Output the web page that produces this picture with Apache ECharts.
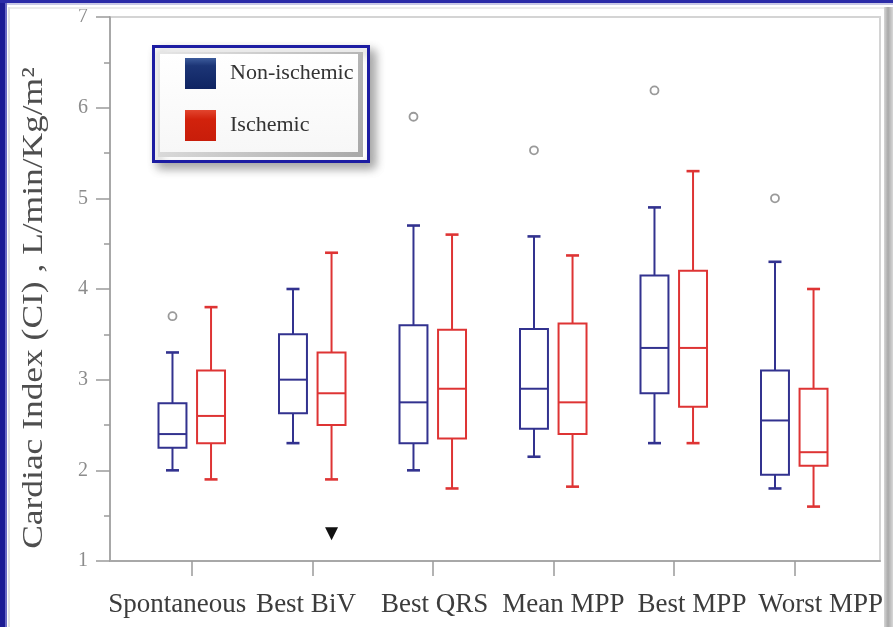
<!DOCTYPE html>
<html>
<head>
<meta charset="utf-8">
<script src="https://cdn.jsdelivr.net/npm/echarts@6/dist/echarts.min.js"></script>
<style>
html, body { margin: 0; padding: 0; background: #ffffff; }
#chart { width: 893px; height: 627px; }
</style>
</head>
<body>
<div id="chart"></div>
<script>
// Cardiac index by pacing configuration, grouped by aetiology
const categories = ['Spontaneous', 'Best BiV', 'Best QRS', 'Mean MPP', 'Best MPP', 'Worst MPP'];

// Box statistics per category: [min, Q1, median, Q3, max]
const nonIschemic = [
  [2.0, 2.25, 2.4, 2.74, 3.3],
  [2.3, 2.63, 3.0, 3.5, 4.0],
  [2.0, 2.3, 2.75, 3.6, 4.7],
  [2.15, 2.46, 2.9, 3.56, 4.58],
  [2.3, 2.85, 3.35, 4.15, 4.9],
  [1.8, 1.95, 2.55, 3.1, 4.3]
];
const ischemic = [
  [1.9, 2.3, 2.6, 3.1, 3.8],
  [1.9, 2.5, 2.85, 3.3, 4.4],
  [1.8, 2.35, 2.9, 3.55, 4.6],
  [1.82, 2.4, 2.75, 3.62, 4.37],
  [2.3, 2.7, 3.35, 4.2, 5.3],
  [1.6, 2.05, 2.2, 2.9, 4.0]
];

// Outlying observations: [category index, value]
const nonIschemicOutliers = [[0, 3.7], [2, 5.9], [3, 5.53], [4, 6.19], [5, 5.0]];
// Significance marker: [category index, value]
const ischemicMarkers = [[1, 1.3]];

const yMin = 1, yMax = 7, yStep = 1;
const yTitle = 'Cardiac Index (CI) , L/min/Kg/m\u00b2';

const BLUE = '#32328f';
const RED = '#de3434';
const SERIF = 'Liberation Serif, Times New Roman, serif';

// Offsets of each group inside a category band (fraction of band width)
const OFFSET_NON = -0.162;
const OFFSET_ISCH = 0.158;

function boxRenderer(offset, color) {
  return function (params, api) {
    const i = api.value(0);
    const band = api.size([1, 0])[0];
    const cx = api.coord([i, yMin])[0] + band * offset;
    const py = v => api.coord([i, v])[1];
    const yLo = py(api.value(1)), yQ1 = py(api.value(2)), yMed = py(api.value(3));
    const yQ3 = py(api.value(4)), yHi = py(api.value(5));
    const hw = band * 0.116;   // half box width
    const cw = band * 0.054;   // half cap width
    const st = { stroke: color, lineWidth: 2, fill: null };
    const cap = { stroke: color, lineWidth: 2.6, fill: null };
    return {
      type: 'group',
      children: [
        { type: 'line', shape: { x1: cx, y1: yQ3, x2: cx, y2: yHi }, style: st },
        { type: 'line', shape: { x1: cx, y1: yQ1, x2: cx, y2: yLo }, style: st },
        { type: 'line', shape: { x1: cx - cw, y1: yHi, x2: cx + cw, y2: yHi }, style: cap },
        { type: 'line', shape: { x1: cx - cw, y1: yLo, x2: cx + cw, y2: yLo }, style: cap },
        { type: 'rect', shape: { x: cx - hw, y: yQ3, width: 2 * hw, height: yQ1 - yQ3 },
          style: { stroke: color, lineWidth: 2, fill: '#ffffff' } },
        { type: 'line', shape: { x1: cx - hw, y1: yMed, x2: cx + hw, y2: yMed }, style: st }
      ]
    };
  };
}

function outlierRenderer(offset) {
  return function (params, api) {
    const i = api.value(0);
    const band = api.size([1, 0])[0];
    const p = api.coord([i, api.value(1)]);
    return {
      type: 'circle',
      shape: { cx: p[0] + band * offset, cy: p[1], r: 4 },
      style: { stroke: '#9a9a9a', lineWidth: 1.8, fill: null }
    };
  };
}

function markerRenderer(offset) {
  return function (params, api) {
    const i = api.value(0);
    const band = api.size([1, 0])[0];
    const p = api.coord([i, api.value(1)]);
    const x = p[0] + band * offset, y = p[1];
    return {
      type: 'polygon',
      shape: { points: [[x - 6.5, y - 6.5], [x + 6.5, y - 6.5], [x, y + 6.5]] },
      style: { fill: '#111111' }
    };
  };
}

const chart = echarts.init(document.getElementById('chart'));

const hiddenY = (gi) => ({ gridIndex: gi, type: 'value', min: yMin, max: yMax, interval: yStep, show: false });

chart.setOption({
  animation: false,
  backgroundColor: '#ffffff',
  grid: [
    { left: 110, right: 13, top: 17, bottom: 66, show: true, borderColor: '#d4d4d4', borderWidth: 2 },
    { left: 131.75, right: 38.25, top: 17, bottom: 66 },
    { left: 113, right: 8, top: 17, bottom: 66 }
  ],
  xAxis: [
    { gridIndex: 0, type: 'value', min: 0, max: 1,
      axisLine: { show: true, onZero: false, lineStyle: { color: '#a8a8a8', width: 2 } },
      axisTick: { show: false }, axisLabel: { show: false }, splitLine: { show: false } },
    { gridIndex: 1, type: 'category', data: categories,
      axisLine: { show: false },
      axisTick: { show: true, alignWithLabel: true, length: 15, lineStyle: { color: '#9a9a9a', width: 1.5 } },
      axisLabel: { show: false }, splitLine: { show: false } },
    { gridIndex: 2, type: 'category', data: categories,
      axisLine: { show: false }, axisTick: { show: false },
      axisLabel: { interval: 0, margin: 30, fontSize: 27, fontFamily: SERIF, color: '#3c3c3c' } }
  ],
  yAxis: [
    { gridIndex: 0, type: 'value', min: yMin, max: yMax, interval: yStep,
      axisLine: { show: true, lineStyle: { color: '#9a9a9a', width: 1.5 } },
      axisTick: { show: true, length: 14, lineStyle: { color: '#9a9a9a', width: 1.5 } },
      minorTick: { show: true, splitNumber: 2, length: 6, lineStyle: { color: '#9a9a9a', width: 1.5 } },
      axisLabel: { margin: 22, fontSize: 20, fontFamily: SERIF, color: '#8c8c8c' },
      splitLine: { show: false } },
    hiddenY(1),
    hiddenY(2)
  ],
  legend: {
    orient: 'vertical', left: 185, top: 58, padding: 0,
    itemWidth: 31, itemHeight: 31, itemGap: 21,
    selectedMode: false, z: 5,
    textStyle: { fontSize: 22, fontFamily: SERIF, color: '#333333', padding: [0, 0, 0, 9] },
    data: [
      { name: 'Non-ischemic', icon: 'rect',
        itemStyle: { borderWidth: 0, color: { type: 'linear', x: 0, y: 0, x2: 0, y2: 1,
          colorStops: [{ offset: 0, color: '#3d5c9c' }, { offset: 0.25, color: '#1c3576' }, { offset: 1, color: '#0f2462' }] } } },
      { name: 'Ischemic', icon: 'rect',
        itemStyle: { borderWidth: 0, color: { type: 'linear', x: 0, y: 0, x2: 0, y2: 1,
          colorStops: [{ offset: 0, color: '#e2452e' }, { offset: 0.3, color: '#d2220c' }, { offset: 1, color: '#c81d0a' }] } } }
    ]
  },
  graphic: [
    // slide frame
    { type: 'rect', z: 20, shape: { x: 0, y: 0, width: 5, height: 627 }, style: { fill: '#1c1c94' } },
    { type: 'rect', z: 20, shape: { x: 5, y: 0, width: 2, height: 627 }, style: { fill: '#6a6ac4' } },
    { type: 'rect', z: 20, shape: { x: 0, y: 0, width: 893, height: 3 }, style: { fill: '#2b2ba8' } },
    { type: 'rect', z: 20, shape: { x: 7, y: 3, width: 886, height: 2 }, style: { fill: '#c9c9e6' } },
    { type: 'rect', z: 20, shape: { x: 8, y: 7, width: 2, height: 620 }, style: { fill: '#e2e2e2' } },
    { type: 'rect', z: 20, shape: { x: 10, y: 7, width: 876, height: 2 }, style: { fill: '#ececec' } },
    { type: 'rect', z: 20, shape: { x: 884, y: 7, width: 9, height: 620 },
      style: { fill: { type: 'linear', x: 0, y: 0, x2: 1, y2: 0,
        colorStops: [{ offset: 0, color: '#d6d6d6' }, { offset: 0.45, color: '#a9a9a9' }, { offset: 1, color: '#d8d8d8' }] } } },
    // vertical axis title, drawn slightly elongated along its reading direction
    { type: 'text', z: 10, x: 34, y: 308, rotation: Math.PI / 2, scaleX: 1.18, scaleY: 1,
      style: { text: yTitle, fontSize: 30, fontFamily: SERIF, fill: '#4e4e4e', align: 'center', verticalAlign: 'middle' } },
    // legend panel
    { type: 'rect', z: 1, z2: 1, shape: { x: 153.5, y: 46.5, width: 215, height: 115 },
      style: { fill: '#ffffff', stroke: '#1c1ca2', lineWidth: 3,
        shadowBlur: 10, shadowOffsetX: 5, shadowOffsetY: 5, shadowColor: 'rgba(0,0,0,0.35)' } },
    { type: 'rect', z: 1, z2: 2, shape: { x: 158, y: 52, width: 205, height: 105 },
      style: { fill: { type: 'linear', x: 0, y: 0, x2: 1, y2: 1,
        colorStops: [{ offset: 0, color: '#e6e6e6' }, { offset: 1, color: '#a8a8a8' }] } } },
    { type: 'rect', z: 1, z2: 3, shape: { x: 160, y: 54, width: 198, height: 98 },
      style: { fill: { type: 'linear', x: 0, y: 0, x2: 0, y2: 1,
        colorStops: [{ offset: 0, color: '#ffffff' }, { offset: 1, color: '#f7f7f7' }] } } }
  ],
  series: [
    { name: 'Non-ischemic', type: 'custom', xAxisIndex: 1, yAxisIndex: 1,
      itemStyle: { color: BLUE },
      renderItem: boxRenderer(OFFSET_NON, BLUE),
      encode: { x: 0, y: [1, 2, 3, 4, 5] },
      data: nonIschemic.map((d, i) => [i].concat(d)) },
    { name: 'Ischemic', type: 'custom', xAxisIndex: 1, yAxisIndex: 1,
      itemStyle: { color: RED },
      renderItem: boxRenderer(OFFSET_ISCH, RED),
      encode: { x: 0, y: [1, 2, 3, 4, 5] },
      data: ischemic.map((d, i) => [i].concat(d)) },
    { name: 'Non-ischemic outliers', type: 'custom', xAxisIndex: 1, yAxisIndex: 1,
      renderItem: outlierRenderer(OFFSET_NON),
      encode: { x: 0, y: 1 },
      data: nonIschemicOutliers },
    { name: 'Ischemic markers', type: 'custom', xAxisIndex: 1, yAxisIndex: 1,
      renderItem: markerRenderer(OFFSET_ISCH),
      encode: { x: 0, y: 1 },
      data: ischemicMarkers }
  ]
});
</script>
</body>
</html>
